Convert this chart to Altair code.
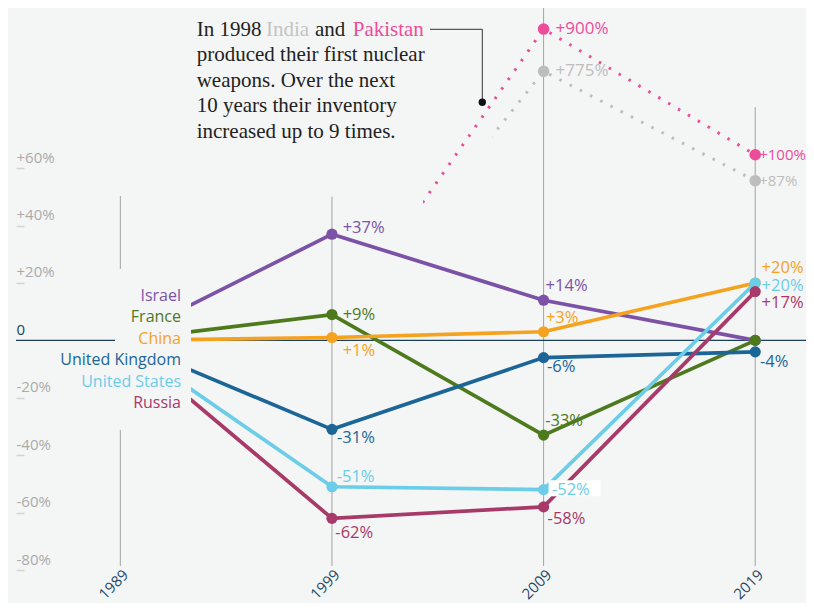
import altair as alt
import pandas as pd

# ---------------- data ----------------
years = [1989, 1999, 2009, 2019]
countries = ["Israel", "France", "China", "United Kingdom", "United States", "Russia"]
israel = [0, 37, 14, 0]
france = [0, 9, -33, 0]
china = [0, 1, 3, 20]
united_kingdom = [0, -31, -6, -4]
united_states = [0, -51, -52, 20]
russia = [0, -62, -58, 17]
country_colors = ["#7b52a6", "#4e7a1e", "#f5a21f", "#1b6597", "#6bcde8", "#a83a69"]

ip_years = [1998, 2009, 2019]
india = [0, 775, 87]
pakistan = [0, 900, 100]
india_color = "#bdbdbd"
pakistan_color = "#ef4b9b"

y_ticks = [-80, -60, -40, -20, 0, 20, 40, 60]
x_ticks = [1989, 1999, 2009, 2019]

note_first = ["In 1998", "India", "and", "Pakistan"]
note_lines = ["produced their first nuclear", "weapons. Over the next",
              "10 years their inventory", "increased up to 9 times."]

# ---------------- styling ----------------
W, H = 790, 562
BG = "#f4f5f5"
NAVY = "#1c3f5e"
SANS = "Open Sans"
SERIF = "Liberation Serif"

series = dict(zip(countries, [israel, france, china, united_kingdom, united_states, russia]))
color_of = dict(zip(countries, country_colors))

rows = []
for c in countries:
    for yr, v in zip(years, series[c]):
        rows.append({"country": c, "year": yr, "value": v})
df = pd.DataFrame(rows)
one = pd.DataFrame({"k": [0]})

XSCALE = alt.Scale(domain=[1984.07, 2021.4], nice=False, zero=False)
YSCALE = alt.Scale(domain=[-80, 115.8], nice=False, zero=False)

x_axis = alt.Axis(values=x_ticks, format="d", labelAngle=315, labelAlign="right",
                  labelBaseline="top", labelColor="#1f4a6b", labelFontSize=15,
                  labelFont=SANS, ticks=False, domain=False, grid=False, title=None,
                  labelPadding=1, offset=-4, labelOverlap=False)
y_axis = alt.Axis(values=y_ticks, orient="left", offset=-8, tickSize=8, labelPadding=0,
                  labelAlign="left", labelBaseline="middle", labelOffset=-11,
                  labelExpr="datum.value > 0 ? '+' + datum.value + '%' : (datum.value == 0 ? '0' : datum.value + '%')",
                  labelColor=alt.condition("datum.value == 0", alt.value(NAVY), alt.value("#ababab")),
                  tickColor=alt.condition("datum.value == 0", alt.value("rgba(0,0,0,0)"), alt.value("#d3d3d3")),
                  tickWidth=1.5, grid=False, domain=False, title=None,
                  labelFontSize=15, labelFont=SANS, labelOverlap=False)


def XD(v):
    return alt.XDatum(v, type="quantitative", scale=XSCALE, axis=x_axis)


def YD(v):
    return alt.YDatum(v, type="quantitative", scale=YSCALE, axis=y_axis)


layers = []

# gridlines (top extents are styling)
grid_tops = {1989: 188, 1999: 188.7, 2009: 0, 2019: 99}
for yr in x_ticks:
    layers.append(alt.Chart(one).mark_rule(color="#a3a3a3", strokeWidth=1).encode(
        x=XD(yr), y=alt.value(grid_tops[yr]), y2=alt.value(H - 4)))

# zero line
layers.append(alt.Chart(one).mark_rule(color=NAVY, strokeWidth=1.2).encode(
    y=YD(0), x=alt.value(0), x2=alt.value(W + 10)))

cscale = alt.Scale(domain=countries, range=country_colors)
base = alt.Chart(df).encode(
    x=alt.X("year:Q", scale=XSCALE, axis=x_axis),
    y=alt.Y("value:Q", scale=YSCALE, axis=y_axis),
    color=alt.Color("country:N", scale=cscale, legend=None),
)
layers.append(base.mark_line(strokeWidth=3.7))
layers.append(base.mark_circle(size=125, opacity=1).transform_filter("datum.year > 1989"))

# mask over the label area
layers.append(alt.Chart(one).mark_rect(color=BG).encode(
    x=alt.value(99), x2=alt.value(175), y=alt.value(261), y2=alt.value(422)))

# country labels
for i, c in enumerate(countries):
    layers.append(alt.Chart(one).mark_text(align="right", baseline="middle", fontSize=16,
                                           font=SANS, color=color_of[c]).encode(
        x=alt.value(165), y=alt.value(287.5 + i * 21.5), text=alt.value(c)))

# white box behind US 2009 label
layers.append(alt.Chart(one).mark_rect(color="white", xOffset=5, x2Offset=57,
                                       yOffset=-9.5, y2Offset=6.5).encode(
    x=XD(2009), x2=alt.X2Datum(2009), y=YD(united_states[2]), y2=alt.Y2Datum(united_states[2])))

# value labels: placement offsets
label_offsets = {
    ("Israel", 1999): (10.7, -6), ("Israel", 2009): (2, -14),
    ("France", 1999): (10.7, 0), ("France", 2009): (1.6, -14),
    ("China", 1999): (10.7, 13), ("China", 2009): (2.3, -14), ("China", 2019): (6.4, -15),
    ("United Kingdom", 1999): (5, 8.4), ("United Kingdom", 2009): (3.3, 9),
    ("United Kingdom", 2019): (4.7, 10),
    ("United States", 1999): (4.7, -10), ("United States", 2009): (8.3, 0),
    ("United States", 2019): (6.4, 3),
    ("Russia", 1999): (3.4, 14.5), ("Russia", 2009): (4, 12), ("Russia", 2019): (6.4, 11.5),
}
for (c, yr), (dx, dy) in label_offsets.items():
    v = series[c][years.index(yr)]
    txt = f"+{v}%" if v > 0 else f"{v}%"
    layers.append(alt.Chart(one).mark_text(align="left", baseline="middle", dx=dx, dy=dy,
                                           fontSize=16.5, font=SANS, color=color_of[c]).encode(
        x=XD(yr), y=YD(v), text=alt.value(txt)))

# annotation text
first_x = [180.7, 250, 299, 336.7]
first_c = ["#222222", "#c4c4c4", "#222222", pakistan_color]
for t, xx, cc in zip(note_first, first_x, first_c):
    layers.append(alt.Chart(one).mark_text(align="left", baseline="alphabetic", fontSize=21,
                                           font=SERIF, color=cc).encode(
        x=alt.value(xx), y=alt.value(27.7), text=alt.value(t)))
for i, t in enumerate(note_lines):
    layers.append(alt.Chart(one).mark_text(align="left", baseline="alphabetic", fontSize=21,
                                           font=SERIF, color="#222222").encode(
        x=alt.value(180.7), y=alt.value(53.2 + i * 25.5), text=alt.value(t)))

# connector
layers.append(alt.Chart(one).mark_rule(color="#333333", strokeWidth=1).encode(
    x=alt.value(414), x2=alt.value(466.3), y=alt.value(21.3), y2=alt.value(21.3)))
layers.append(alt.Chart(one).mark_rule(color="#333333", strokeWidth=1).encode(
    x=alt.value(466.3), x2=alt.value(466.3), y=alt.value(21.3), y2=alt.value(94.3)))
layers.append(alt.Chart(one).mark_circle(color="#111111", size=55, opacity=1).encode(
    x=alt.value(466.3), y=alt.value(94.3)))

main = alt.layer(*layers)


def ip_layer(vals, color, domain, cutoff):
    d = pd.DataFrame({"year": ip_years, "value": vals})
    ys = alt.Scale(type="pow", exponent=0.215, domain=domain, nice=False, zero=False)
    b = alt.Chart(d).encode(
        x=alt.X("year:Q", scale=XSCALE, axis=x_axis),
        y=alt.Y("value:Q", scale=ys, axis=None),
    ).transform_calculate(label="'+' + datum.value + '%'")
    clear = "rgba(255,255,255,0)"
    grad = {"gradient": "linear", "x1": 0, "y1": 0, "x2": 1, "y2": 0,
            "stops": [{"offset": 0, "color": clear}, {"offset": cutoff, "color": clear},
                      {"offset": cutoff + 0.001, "color": color}, {"offset": 1, "color": color}]}
    line = b.mark_line(stroke=grad, strokeWidth=3, strokeDash=[2.5, 9])
    pts = b.mark_circle(size=135, color=color, opacity=1).transform_filter("datum.year > 1998")
    t1 = b.mark_text(align="left", baseline="middle", dx=12, fontSize=17, font=SANS,
                     color=color).encode(text="label:N").transform_filter("datum.year == 2009")
    t2 = b.mark_text(align="left", baseline="middle", dx=4, fontSize=15, font=SANS,
                     color=color).encode(text="label:N").transform_filter("datum.year == 2019")
    return alt.layer(line, pts, t1, t2)


india_layer = ip_layer(india, india_color, [-157.2, 1931.9], 0.408)
pak_layer = ip_layer(pakistan, pakistan_color, [-97.26, 1195.5], 0.252)

chart = alt.layer(main, india_layer, pak_layer).resolve_scale(y="independent").properties(
    width=W, height=H, autosize="none",
    padding={"left": 8, "top": 0, "right": 0, "bottom": 33},
    background=BG,
).configure_view(stroke=None)

chart.save("out.html", embed_options={"renderer": "svg", "actions": False})
